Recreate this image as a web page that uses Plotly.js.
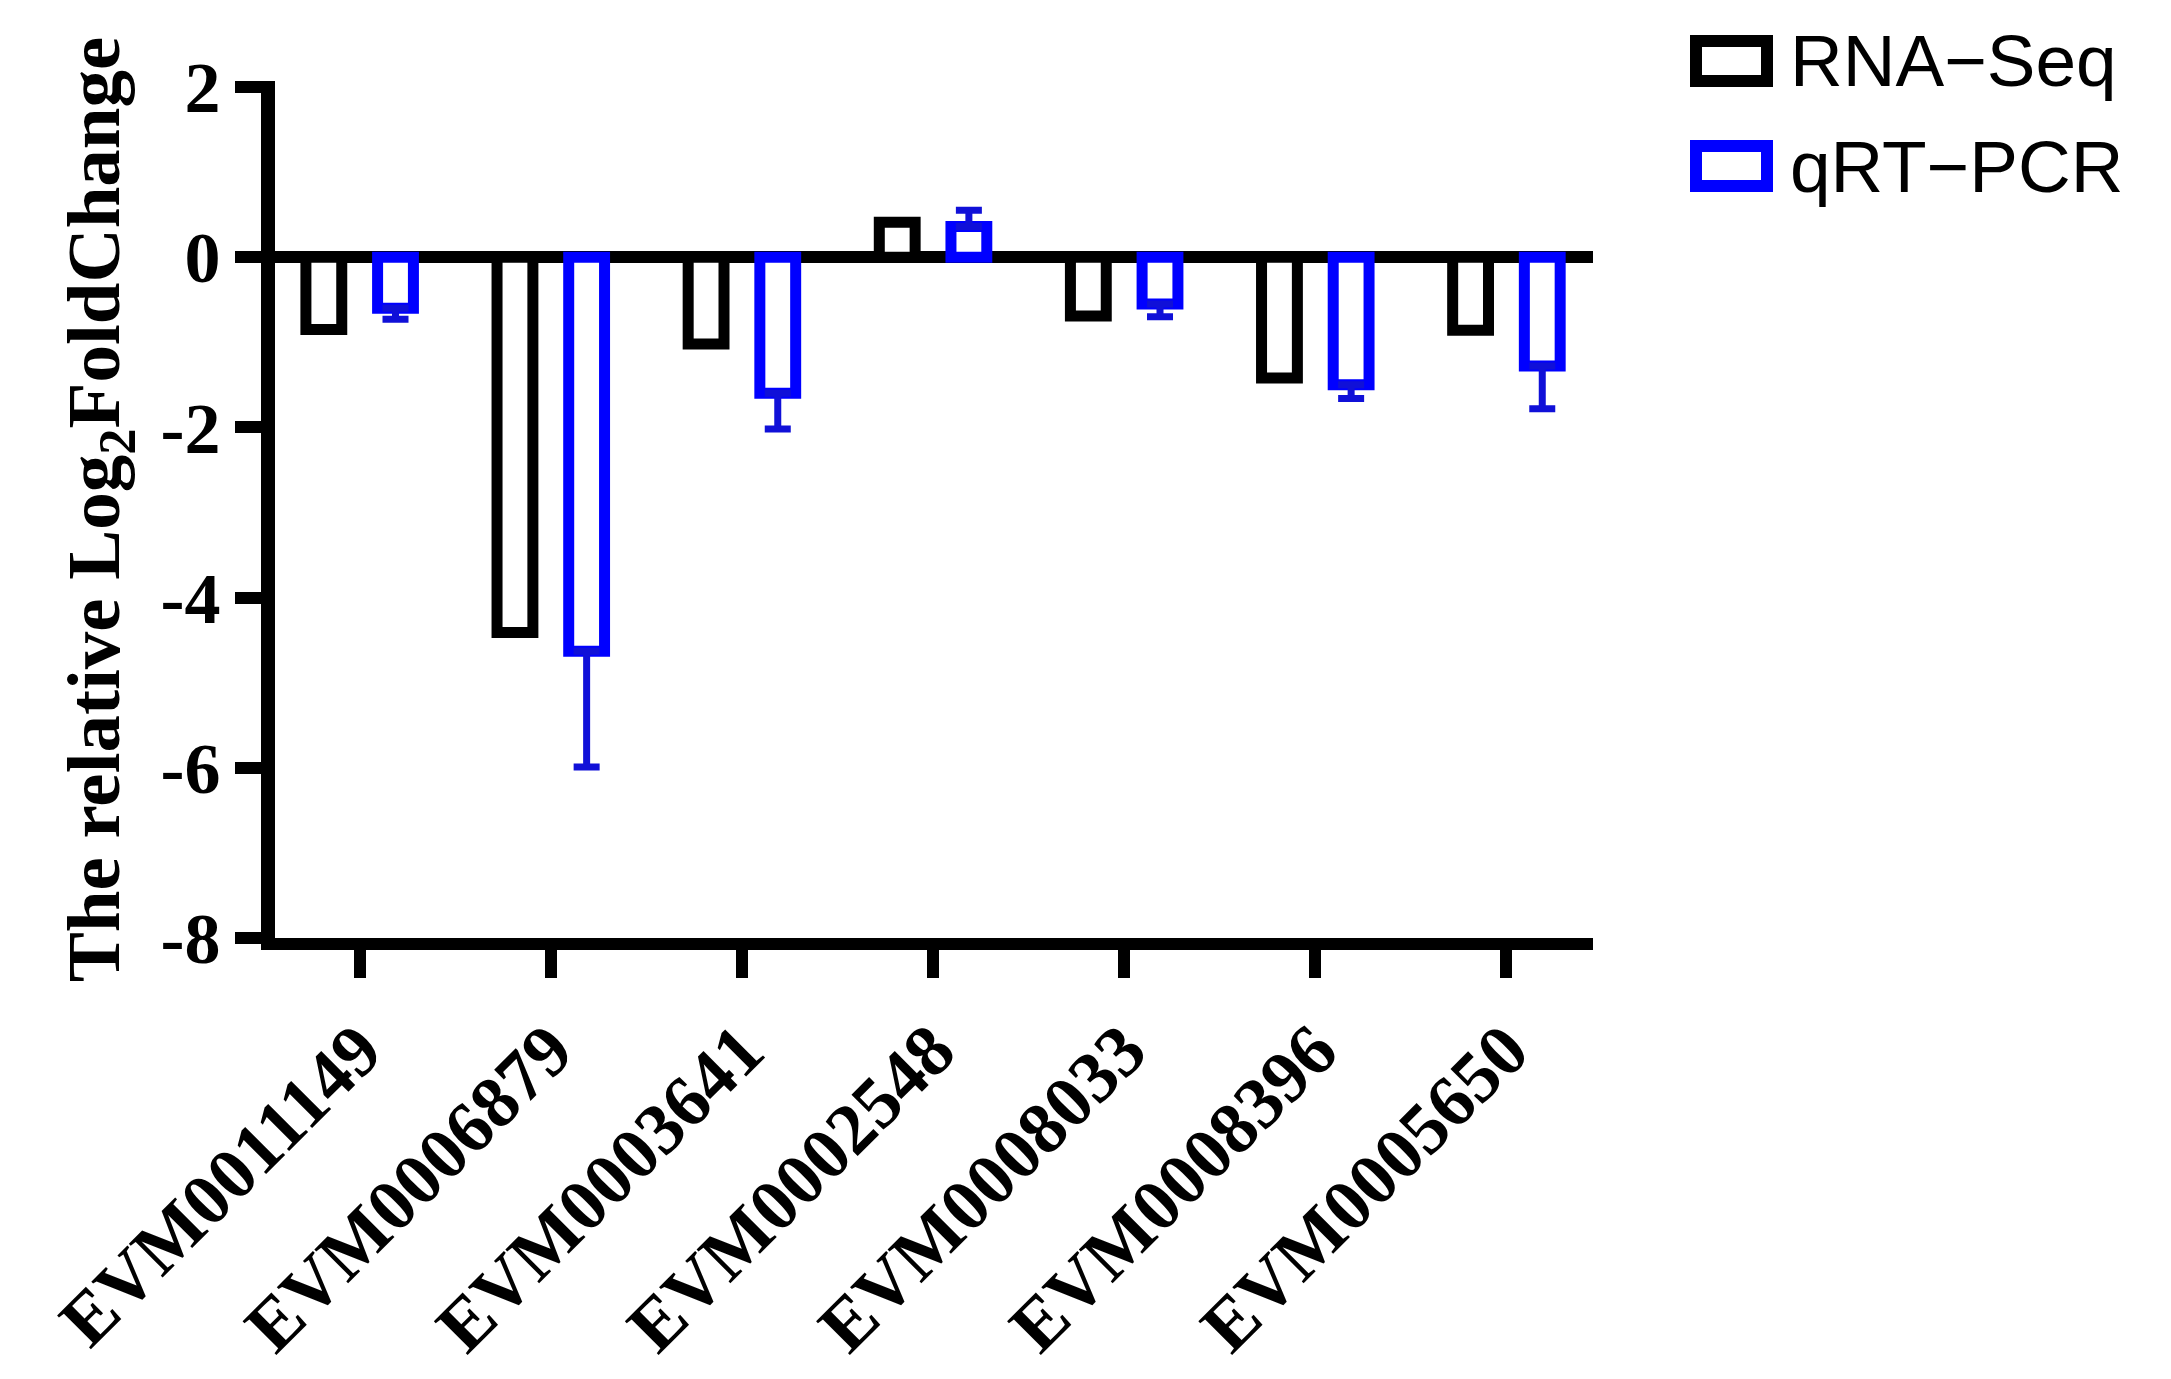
<!DOCTYPE html>
<html>
<head>
<meta charset="utf-8">
<script src="https://cdn.plot.ly/plotly-3.0.1.min.js"></script>
<style>
  html, body { margin: 0; padding: 0; background: #ffffff; }
  #chart { width: 2171px; height: 1379px; }
</style>
</head>
<body>
<div id="chart"></div>
<script>
// ---- data ----
const genes = ["EVM0011149", "EVM0006879", "EVM0003641", "EVM0002548", "EVM0008033", "EVM0008396", "EVM0005650"];
const rnaSeq = [-0.85, -4.41, -1.02, 0.41, -0.69, -1.42, -0.86];
const qrtPcr = [-0.60, -4.63, -1.60, 0.36, -0.55, -1.50, -1.28];
const qrtPcrErr = [0.13, 1.36, 0.42, 0.19, 0.15, 0.16, 0.50];
const seriesNames = ["RNA\u2212Seq", "qRT\u2212PCR"];
const yTicks = [2, 0, -2, -4, -6, -8];

// error bars point away from zero (one-sided, as in the figure)
const errUp = qrtPcr.map((v, i) => v >= 0 ? qrtPcrErr[i] : 0);
const errDown = qrtPcr.map((v, i) => v < 0 ? qrtPcrErr[i] : 0);

const BLUE = "#0000ff";
const W = 2171, H = 1379;
const M = { l: 275, r: 578, t: 81, b: 441 };
const plotW = W - M.l - M.r, plotH = H - M.t - M.b;
const px = x => (x - M.l) / plotW;
const py = y => 1 - (y - M.t) / plotH;

const serif = "Liberation Serif, Times New Roman, serif";

const traces = [
  {
    type: "bar", name: seriesNames[0], x: genes, y: rnaSeq,
    marker: { color: "#ffffff", line: { color: "#000000", width: 11 } },
    showlegend: false, hoverinfo: "x+y"
  },
  {
    type: "bar", name: seriesNames[1], x: genes, y: qrtPcr,
    marker: { color: "#ffffff", line: { color: BLUE, width: 11 } },
    error_y: { type: "data", symmetric: false, array: errUp, arrayminus: errDown,
               color: "#1010d8", thickness: 7, width: 13 },
    showlegend: false, hoverinfo: "x+y"
  }
];

// legend drawn as boxes + text at the top right
const legendRows = [
  { name: seriesNames[0], color: "#000000", cy: 61 },
  { name: seriesNames[1], color: BLUE, cy: 166 }
];
const shapes = legendRows.map(r => ({
  type: "rect", xref: "paper", yref: "paper",
  x0: px(1696), x1: px(1767), y0: py(r.cy + 20), y1: py(r.cy - 20),
  line: { color: r.color, width: 12 }, fillcolor: "#ffffff"
}));
const annotations = legendRows.map(r => ({
  xref: "paper", yref: "paper", x: px(1788), y: py(r.cy),
  xanchor: "left", yanchor: "middle", showarrow: false,
  text: r.name,
  font: { family: "Liberation Sans, Arial, sans-serif", size: 73, color: "#000" }
}));

const layout = {
  width: W, height: H,
  margin: M,
  paper_bgcolor: "#ffffff", plot_bgcolor: "#ffffff",
  barmode: "group", bargap: 0.25, bargroupgap: 0.5,
  showlegend: false,
  xaxis: {
    type: "category",
    range: [-0.443, 6.453],
    showline: true, linecolor: "#000", linewidth: 12,
    ticks: "outside", ticklen: 28, tickwidth: 12, tickcolor: "#000",
    tickangle: -45,
    tickfont: { family: serif, size: 73, color: "#000", weight: "bold" },
    showgrid: false, zeroline: false,
    fixedrange: true
  },
  yaxis: {
    range: [-8, 2.07],
    tickvals: yTicks, ticktext: yTicks.map(String),
    showline: true, linecolor: "#000", linewidth: 14,
    ticks: "outside", ticklen: 26, tickwidth: 12, tickcolor: "#000",
    tickfont: { family: serif, size: 72, color: "#000", weight: "bold" },
    showgrid: false,
    zeroline: true, zerolinecolor: "#000", zerolinewidth: 12,
    title: {
      text: "The relative Log<sub>2</sub>FoldChange",
      font: { family: serif, size: 75, color: "#000", weight: "bold" },
      standoff: 22
    },
    fixedrange: true
  },
  shapes: shapes,
  annotations: annotations
};

Plotly.newPlot("chart", traces, layout, { displayModeBar: false, staticPlot: true });
</script>
</body>
</html>
